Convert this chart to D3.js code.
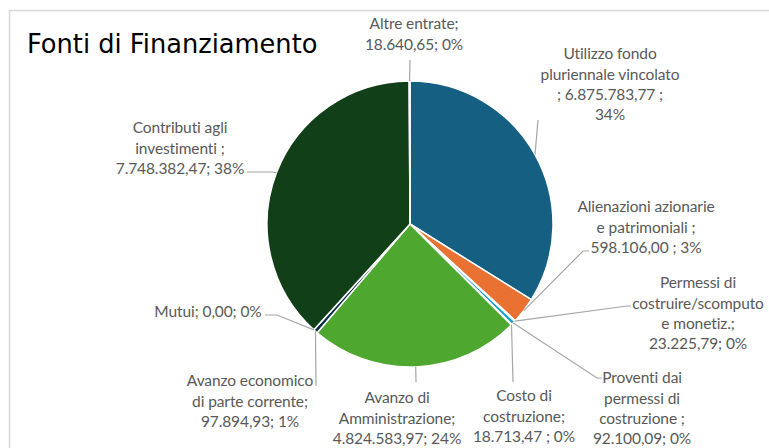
<!DOCTYPE html>
<html>
<head>
<meta charset="utf-8">
<script src="https://cdn.jsdelivr.net/npm/d3@7"></script>
<style>
  body { margin: 0; background: #fff; }
  .lbl { font-family: Lato, "Noto Sans", sans-serif; font-size: 15.5px; fill: #595959; letter-spacing: -0.1px; }
</style>
</head>
<body>
<div id="chart"></div>
<script>
// slices, clockwise from 12 o'clock (Excel order)
var categories = ["Utilizzo fondo pluriennale vincolato", "Alienazioni azionarie e patrimoniali",
    "Permessi di costruire/scomputo e monetiz.", "Proventi dai permessi di costruzione",
    "Costo di costruzione", "Avanzo di Amministrazione", "Avanzo economico di parte corrente",
    "Mutui", "Contributi agli investimenti", "Altre entrate"];
var values = [6875783.77, 598106.00, 23225.79, 92100.09, 18713.47, 4824583.97, 97894.93, 0.00, 7748382.47, 18640.65];
var colors = ["#156082", "#e97132", "#196b24", "#0f9ed5", "#a02b93", "#4ea72e", "#0b3041", "#74391a", "#113f18", "#074f6a"];

// data labels as they appear on the chart
var labelLines = [
    ["Utilizzo fondo", "pluriennale vincolato", ";  6.875.783,77 ;", "34%"],
    ["Alienazioni azionarie", "e patrimoniali ;", "598.106,00 ; 3%"],
    ["Permessi di", "costruire/scomputo", "e monetiz.;", "23.225,79; 0%"],
    ["Proventi dai", "permessi di", "costruzione ;", "92.100,09; 0%"],
    ["Costo di", "costruzione;", "18.713,47 ; 0%"],
    ["Avanzo di", "Amministrazione;", "4.824.583,97; 24%"],
    ["Avanzo economico", "di parte corrente;", "97.894,93; 1%"],
    ["Mutui; 0,00; 0%"],
    ["Contributi agli", "investimenti ;", "7.748.382,47; 38%"],
    ["Altre entrate;", "18.640,65; 0%"]
];

// label placement: centre x, first line y, leader points after the slice edge
var labelPos = [
    {x: 610, y: 54, leader: [[538, 120]]},
    {x: 646, y: 207, leader: [[583, 251], [589, 251]]},
    {x: 698, y: 283, leader: [[627, 306], [631, 306]]},
    {x: 642, y: 378, leader: [[597, 378], [602, 378]]},
    {x: 524, y: 396, leader: [[513, 382]]},
    {x: 397, y: 398, leader: [[416, 382]]},
    {x: 250, y: 381, leader: [[316, 386]]},
    {x: 208, y: 312, leader: [[277, 315], [265, 315]]},
    {x: 180, y: 128, leader: [[272, 172], [247, 172]]},
    {x: 414, y: 24, leader: [[410, 60]]}
];

var width = 769, height = 448;
var cx = 410, cy = 224, radius = 143;
var lineH = 20.3;

var svg = d3.select("#chart").append("svg")
    .attr("width", width)
    .attr("height", height);

// chart area border
svg.append("rect")
    .attr("x", 9.5).attr("y", 10.5)
    .attr("width", width + 10).attr("height", height + 10)
    .attr("fill", "#fff")
    .attr("stroke", "#d9d9d9")
    .attr("stroke-width", 1.5);

svg.append("text")
    .attr("x", 27)
    .attr("y", 53)
    .style("font-family", "DejaVu Sans, Verdana, sans-serif")
    .style("font-size", "25.7px")
    .style("fill", "#000")
    .text("Fonti di Finanziamento");

var pie = d3.pie().sort(null).value(d => d)
    .startAngle(0).endAngle(2 * Math.PI);
var arcs = pie(values);

var arc = d3.arc().innerRadius(0).outerRadius(radius);

var g = svg.append("g").attr("transform", `translate(${cx},${cy})`);

g.selectAll("path.slice")
    .data(arcs)
    .enter().append("path")
    .attr("class", "slice")
    .attr("d", arc)
    .attr("fill", (d, i) => colors[i])
    .attr("stroke", "#fff")
    .attr("stroke-width", 1.5)
    .attr("stroke-linejoin", "round");

// leader lines from slice edge to label
var lineGen = d3.line();
arcs.forEach(function(d, i){
    var mid = (d.startAngle + d.endAngle) / 2;
    var start = [cx + radius * Math.sin(mid), cy - radius * Math.cos(mid)];
    var pts = [start].concat(labelPos[i].leader);
    svg.append("path")
        .attr("d", lineGen(pts))
        .attr("fill", "none")
        .attr("stroke", "#a6a6a6")
        .attr("stroke-width", 1.2);
});

// labels
labelLines.forEach(function(lines, i){
    var t = svg.append("text")
        .attr("class", "lbl")
        .attr("text-anchor", "middle");
    lines.forEach(function(line, j){
        t.append("tspan")
            .attr("x", labelPos[i].x)
            .attr("y", labelPos[i].y + j * lineH)
            .attr("dy", "0.35em")
            .text(line);
    });
});
</script>
</body>
</html>
